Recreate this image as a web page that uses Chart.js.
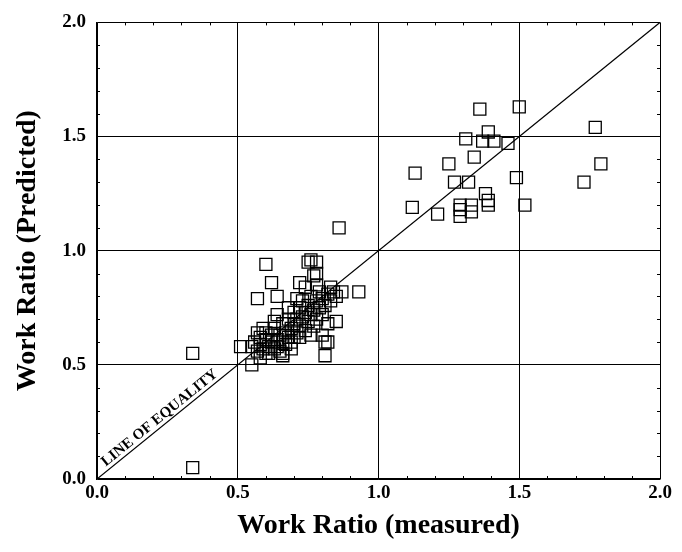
<!DOCTYPE html>
<html>
<head>
<meta charset="utf-8">
<script src="https://cdn.jsdelivr.net/npm/chart.js@4.4.0/dist/chart.umd.min.js"></script>
<style>
  html, body { margin: 0; padding: 0; background: #fff; }
  #wrap { width: 682px; height: 552px; }
</style>
</head>
<body>
<div id="wrap"><canvas id="workChart" width="682" height="552"></canvas></div>
<script>
// ---------------- data ----------------
const measured = [
  // upper group
  1.36, 1.50, 1.77, 1.31, 1.39, 1.37, 1.41, 1.46, 1.34, 1.25, 1.13, 1.79, 1.27, 1.32,
  1.49, 1.73, 1.12, 1.21, 1.29, 1.29, 1.29, 1.33, 1.33, 1.38, 1.39, 1.39, 1.52,
  // outliers
  0.86, 0.93, 0.34, 0.34,
  // upper edge of main cluster
  0.60, 0.75, 0.76, 0.78, 0.78, 0.77, 0.62, 0.72, 0.57, 0.64, 0.83, 0.87, 0.85,
  0.51, 0.81, 0.82, 0.81, 0.55, 0.66,
  // main cluster
  0.55, 0.56, 0.57, 0.58, 0.58, 0.59, 0.60, 0.60, 0.61, 0.61, 0.62, 0.62, 0.63, 0.63,
  0.64, 0.64, 0.65, 0.65, 0.66, 0.66, 0.67, 0.67, 0.68, 0.68, 0.69, 0.69, 0.70, 0.70,
  0.71, 0.71, 0.72, 0.72, 0.73, 0.73, 0.74, 0.74, 0.75, 0.75, 0.76, 0.76, 0.77, 0.77,
  0.78, 0.78, 0.79, 0.79, 0.80, 0.80, 0.81, 0.82, 0.82, 0.83, 0.84, 0.85, 0.76, 0.70,
  0.66, 0.69, 0.72, 0.57, 0.59, 0.63, 0.64, 0.68, 0.71, 0.74, 0.78, 0.80, 0.60, 0.58
];
const predicted = [
  1.62, 1.63, 1.54, 1.49, 1.52, 1.48, 1.48, 1.47, 1.41, 1.38, 1.34, 1.38, 1.30, 1.30,
  1.32, 1.30, 1.19, 1.16, 1.20, 1.18, 1.15, 1.20, 1.17, 1.25, 1.22, 1.20, 1.20,
  1.10, 0.82, 0.55, 0.05,
  0.94, 0.95, 0.96, 0.95, 0.90, 0.89, 0.86, 0.86, 0.79, 0.80, 0.84, 0.82, 0.69,
  0.58, 0.60, 0.60, 0.54, 0.50, 0.54,
  0.58, 0.60, 0.56, 0.62, 0.59, 0.57, 0.61, 0.64, 0.58, 0.55, 0.60, 0.63, 0.57, 0.66,
  0.61, 0.58, 0.63, 0.56, 0.60, 0.68, 0.64, 0.59, 0.62, 0.70, 0.66, 0.60, 0.68, 0.73,
  0.64, 0.70, 0.75, 0.67, 0.71, 0.78, 0.65, 0.73, 0.69, 0.76, 0.72, 0.80, 0.67, 0.74,
  0.78, 0.70, 0.75, 0.82, 0.72, 0.79, 0.76, 0.81, 0.68, 0.78, 0.82, 0.80, 0.63, 0.62,
  0.55, 0.57, 0.62, 0.64, 0.66, 0.69, 0.72, 0.75, 0.79, 0.84, 0.85, 0.63, 0.55, 0.53
];
const equalityX = [0, 2];
const equalityY = [0, 2];
const axisTicks = [0, 0.5, 1, 1.5, 2];
const minorTicks = [0.1, 0.2, 0.3, 0.4, 0.6, 0.7, 0.8, 0.9, 1.1, 1.2, 1.3, 1.4, 1.6, 1.7, 1.8, 1.9];

const serif = "'Liberation Serif', 'Times New Roman', serif";

// ---------------- plugins ----------------
// little inside ticks along the plot frame
const minorTickPlugin = {
  id: 'minorTicks',
  afterDatasetsDraw(chart) {
    const { ctx, chartArea: a, scales } = chart;
    ctx.save();
    ctx.strokeStyle = '#000';
    ctx.lineWidth = 1;
    minorTicks.forEach(v => {
      const px = Math.round(scales.x.getPixelForValue(v)) + 0.5;
      const py = Math.round(scales.y.getPixelForValue(v)) + 0.5;
      ctx.beginPath();
      ctx.moveTo(px, a.bottom); ctx.lineTo(px, a.bottom - 3);
      ctx.moveTo(px, a.top); ctx.lineTo(px, a.top + 3);
      ctx.moveTo(a.left, py); ctx.lineTo(a.left + 3, py);
      ctx.moveTo(a.right, py); ctx.lineTo(a.right - 3, py);
      ctx.stroke();
    });
    ctx.restore();
  }
};

// "LINE OF EQUALITY" written along the diagonal
const lineLabelPlugin = {
  id: 'lineLabel',
  afterDatasetsDraw(chart) {
    const { ctx, scales } = chart;
    const x0 = scales.x.getPixelForValue(0), y0 = scales.y.getPixelForValue(0);
    const x1 = scales.x.getPixelForValue(2), y1 = scales.y.getPixelForValue(2);
    const ang = Math.atan2(y1 - y0, x1 - x0);
    const cx = scales.x.getPixelForValue(0.24);
    const cy = scales.y.getPixelForValue(0.24);
    ctx.save();
    ctx.translate(cx, cy);
    ctx.rotate(ang);
    ctx.font = "bold 15px " + serif;
    ctx.fillStyle = '#000';
    ctx.textAlign = 'center';
    ctx.textBaseline = 'alphabetic';
    ctx.fillText('LINE OF EQUALITY', 0, -4);
    ctx.restore();
  }
};

// ---------------- chart ----------------
const ctx = document.getElementById('workChart').getContext('2d');
new Chart(ctx, {
  type: 'scatter',
  data: {
    datasets: [{
      label: 'Work Ratio',
      data: measured.map((v, i) => ({ x: v, y: predicted[i] })),
      pointStyle: 'rect',
      pointRadius: 8.5,
      pointBorderWidth: 1.3,
      borderColor: '#000',
      backgroundColor: 'rgba(0,0,0,0)'
    }, {
      type: 'line',
      label: 'Line of equality',
      data: equalityX.map((v, i) => ({ x: v, y: equalityY[i] })),
      borderColor: '#000',
      borderWidth: 1.2,
      pointRadius: 0,
      fill: false
    }]
  },
  options: {
    responsive: false,
    animation: false,
    layout: { padding: { top: 15, right: 22, left: 0, bottom: 0 } },
    plugins: {
      legend: { display: false },
      tooltip: { enabled: false }
    },
    scales: {
      x: {
        type: 'linear',
        min: 0, max: 2,
        afterBuildTicks: s => { s.ticks = axisTicks.map(v => ({ value: v })); },
        afterFit: s => { s.height = 73; },
        ticks: {
          color: '#000',
          padding: 3,
          font: { family: serif, size: 19, weight: 'bold' },
          callback: v => Number(v).toFixed(1)
        },
        grid: { color: '#000', lineWidth: 1, drawTicks: false },
        border: { color: '#000', width: 1.5 },
        title: {
          display: true,
          text: 'Work Ratio (measured)',
          color: '#000',
          font: { family: serif, size: 28, weight: 'bold' },
          padding: { top: 0, bottom: 9 }
        }
      },
      y: {
        type: 'linear',
        min: 0, max: 2,
        afterBuildTicks: s => { s.ticks = axisTicks.map(v => ({ value: v })); },
        afterFit: s => { s.width = 97; },
        ticks: {
          color: '#000',
          padding: 11,
          font: { family: serif, size: 19, weight: 'bold' },
          callback: v => Number(v).toFixed(1)
        },
        grid: { color: '#000', lineWidth: 1, drawTicks: false },
        border: { color: '#000', width: 1.5 },
        title: {
          display: true,
          text: 'Work Ratio (Predicted)',
          color: '#000',
          font: { family: serif, size: 28, weight: 'bold' },
          padding: { top: 11, bottom: 0 }
        }
      }
    }
  },
  plugins: [minorTickPlugin, lineLabelPlugin]
});
</script>
</body>
</html>
